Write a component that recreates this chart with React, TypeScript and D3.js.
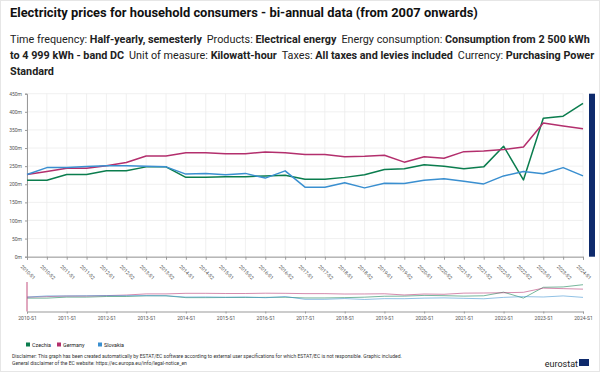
import * as d3 from "d3";
import { useRef, useEffect } from "react";

const periods: string[] = [];
for (let y = 2010; y <= 2024; y++) {
  periods.push(`${y}-S1`);
  if (y < 2024) periods.push(`${y}-S2`);
}

const countries = ["Czechia", "Germany", "Slovakia"];
const colors = ["#0b7d4e", "#b32f6d", "#3a8fd0"];

// EUR per kWh (PPS)
const czechia = [0.211, 0.211, 0.227, 0.227, 0.237, 0.237, 0.248, 0.248, 0.219, 0.219, 0.221, 0.221, 0.223, 0.225, 0.214, 0.214, 0.219, 0.226, 0.241, 0.243, 0.254, 0.250, 0.243, 0.248, 0.305, 0.212, 0.382, 0.388, 0.423];
const germany = [0.227, 0.235, 0.244, 0.244, 0.251, 0.260, 0.278, 0.278, 0.287, 0.287, 0.284, 0.284, 0.289, 0.287, 0.282, 0.282, 0.276, 0.277, 0.280, 0.261, 0.276, 0.272, 0.290, 0.292, 0.296, 0.303, 0.369, 0.361, 0.353];
const slovakia = [0.227, 0.246, 0.246, 0.249, 0.251, 0.251, 0.250, 0.248, 0.228, 0.230, 0.226, 0.230, 0.217, 0.237, 0.192, 0.192, 0.204, 0.190, 0.203, 0.202, 0.211, 0.215, 0.208, 0.201, 0.223, 0.235, 0.229, 0.246, 0.223];

const series = [czechia, germany, slovakia];
const yTicks = [0, 0.05, 0.1, 0.15, 0.2, 0.25, 0.3, 0.35, 0.4, 0.45];

const width = 600;
const height = 372;
const left = 27;
const right = 583;
const plotTop = 93.7;
const plotBottom = 256.7;
const navTop = 283;
const navBottom = 311.5;

const font = "Roboto, 'Noto Sans', Arial, sans-serif";

const App = () => {
  const gx = useRef<SVGGElement>(null);
  const gy = useRef<SVGGElement>(null);
  const gnav = useRef<SVGGElement>(null);

  const x = d3.scalePoint<string>().domain(periods).range([left, right]);
  const y = d3.scaleLinear().domain([0, 0.45]).range([plotBottom, plotTop]);
  const yNav = d3.scaleLinear().domain([0, 0.45]).range([navBottom, navTop]);

  const line = d3.line<number>().x((_, i) => x(periods[i]) as number).y(d => y(d));
  const navLine = d3.line<number>().x((_, i) => x(periods[i]) as number).y(d => yNav(d));

  useEffect(() => {
    document.body.style.margin = "0";
    if (gx.current) {
      const g = d3.select(gx.current);
      g.call(d3.axisBottom(x).tickSize(3));
      g.select(".domain").attr("stroke", "#999");
      g.selectAll(".tick line").attr("stroke", "#999");
      g.selectAll(".tick text")
        .attr("font-size", 5)
        .attr("font-family", font)
        .attr("fill", "#555")
        .attr("text-anchor", "start")
        .attr("dy", 0)
        .attr("transform", "translate(-3,6) rotate(45)");
    }
    if (gy.current) {
      const g = d3.select(gy.current);
      g.call(d3.axisLeft(y).tickValues(yTicks).tickSize(2).tickFormat(d => `${Math.round(+d * 1000)}m`));
      g.select(".domain").attr("stroke", "#999");
      g.selectAll(".tick line").attr("stroke", "#999");
      g.selectAll(".tick text").attr("font-size", 5).attr("font-family", font).attr("fill", "#555");
    }
    if (gnav.current) {
      const g = d3.select(gnav.current);
      g.call(d3.axisBottom(x).tickValues(periods.filter(p => p.endsWith("S1"))).tickSize(2));
      g.select(".domain").attr("stroke", "#999");
      g.selectAll(".tick line").attr("stroke", "#999");
      g.selectAll(".tick text").attr("font-size", 5).attr("font-family", font).attr("fill", "#555");
    }
  }, []);

  const gap = 5;

  return (
    <svg width={width} height={height} style={{ display: "block", fontFamily: font }}>
      <rect x={0.5} y={0.5} width={width - 1} height={height - 1} fill="#fff" stroke="#e6e6e6" />
      <text x={10} y={17} fontSize={12.9} fontWeight="bold" fill="#111">
        Electricity prices for household consumers - bi-annual data (from 2007 onwards)
      </text>
      <text x={10} y={43} fontSize={10.8} fill="#222">
        <tspan>Time frequency: </tspan>
        <tspan fontWeight="bold">Half-yearly, semesterly</tspan>
        <tspan dx={gap}>Products: </tspan>
        <tspan fontWeight="bold">Electrical energy</tspan>
        <tspan dx={gap}>Energy consumption: </tspan>
        <tspan fontWeight="bold">Consumption from 2 500 kWh</tspan>
      </text>
      <text x={10} y={59} fontSize={10.8} fill="#222">
        <tspan fontWeight="bold">to 4 999 kWh - band DC</tspan>
        <tspan dx={gap}>Unit of measure: </tspan>
        <tspan fontWeight="bold">Kilowatt-hour</tspan>
        <tspan dx={gap}>Taxes: </tspan>
        <tspan fontWeight="bold">All taxes and levies included</tspan>
        <tspan dx={gap}>Currency: </tspan>
        <tspan fontWeight="bold">Purchasing Power</tspan>
      </text>
      <text x={10} y={75} fontSize={10.8} fill="#222" fontWeight="bold">Standard</text>

      {/* grid */}
      {yTicks.map(t => (
        <line key={t} x1={left} x2={right} y1={y(t)} y2={y(t)} stroke="#ececec" strokeWidth={0.8} />
      ))}
      {periods.map(p => (
        <line key={p} x1={x(p)} x2={x(p)} y1={plotTop} y2={plotBottom} stroke="#ececec" strokeWidth={0.8} />
      ))}

      <g ref={gx} transform={`translate(0,${plotBottom})`} />
      <g ref={gy} transform={`translate(${left},0)`} />

      {series.map((s, i) => (
        <path key={countries[i]} d={line(s) as string} fill="none" stroke={colors[i]} strokeWidth={1.5} strokeLinejoin="round" />
      ))}

      {/* scrollbar */}
      <rect x={589} y={plotTop} width={6} height={plotBottom - plotTop} fill="#0e2a6c" />

      {/* navigator */}
      {series.map((s, i) => (
        <path key={countries[i]} d={navLine(s) as string} fill="none" stroke={colors[i]} strokeOpacity={0.7} strokeWidth={0.8} />
      ))}
      <line x1={left} x2={left} y1={navTop - 1} y2={navBottom} stroke="#c2507f" strokeWidth={1} />
      <g ref={gnav} transform={`translate(0,${navBottom})`} />

      {/* legend */}
      {countries.map((c, i) => {
        const lx = [26, 57, 98][i];
        return (
          <g key={c} transform={`translate(${lx},342.5)`}>
            <rect x={0} y={0} width={4} height={4} fill={colors[i]} />
            <text x={6} y={4} fontSize={5.4} fill="#222">{c}</text>
          </g>
        );
      })}

      <text x={12} y={358} fontSize={5} fill="#333">
        Disclaimer: This graph has been created automatically by ESTAT/EC software according to external user specifications for which ESTAT/EC is not responsible. Graphic included.
      </text>
      <text x={12} y={365} fontSize={5} fill="#333">
        General disclaimer of the EC website: https://ec.europa.eu/info/legal-notice_en
      </text>

      <text x={578} y={367} fontSize={9} fill="#222" textAnchor="end">eurostat</text>
      <rect x={579} y={359} width={10} height={7} fill="#0e2a6c" />
    </svg>
  );
};

export default App;
